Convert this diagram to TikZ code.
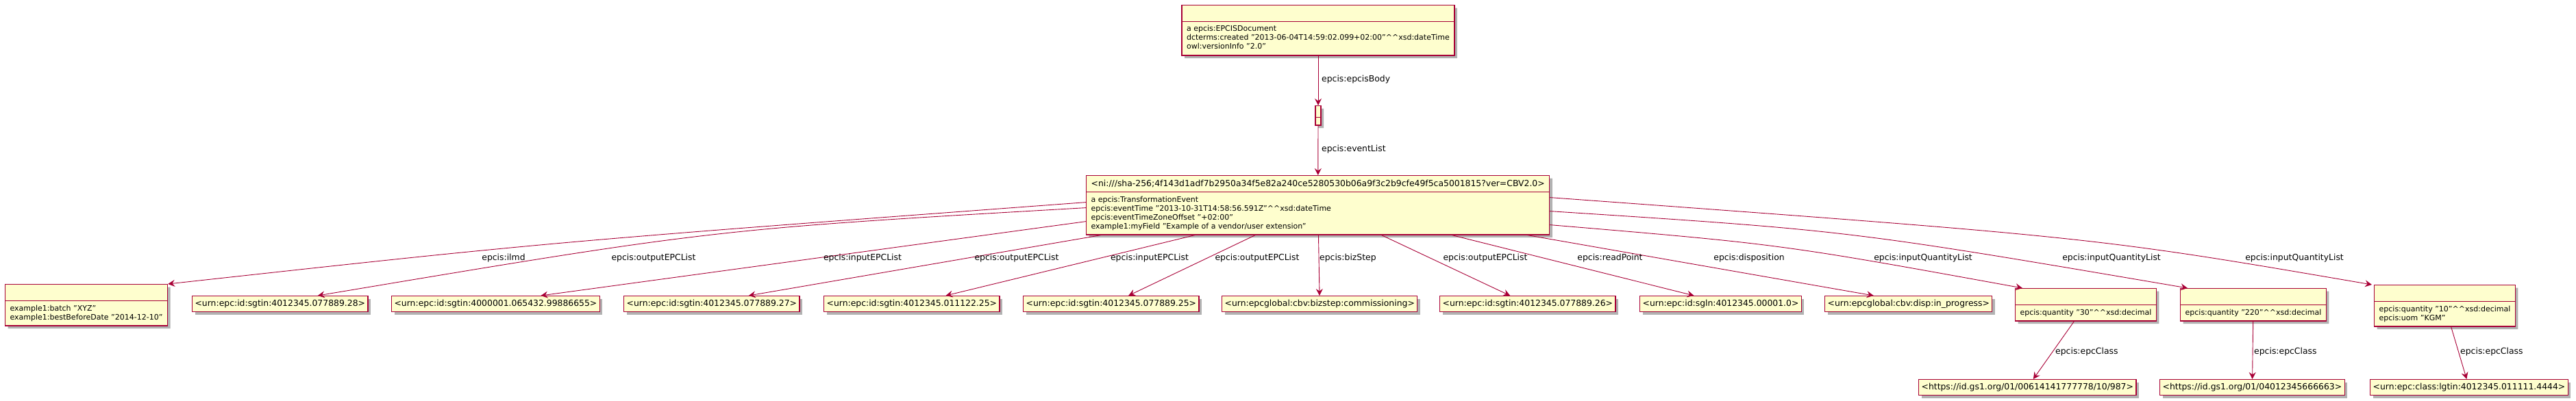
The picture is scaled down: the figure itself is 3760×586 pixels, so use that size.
\documentclass[tikz,border=0pt]{standalone}
\usepackage{fontspec}
\setmainfont{DejaVu Sans}
\usetikzlibrary{calc, arrows.meta, shapes.multipart, shadows}
\definecolor{umlred}{HTML}{A80036}
\definecolor{umlfill}{HTML}{FEFECE}
\newcommand{\namefont}{\fontsize{12.4}{14}\selectfont}
\newcommand{\attrfont}{\fontsize{11}{13}\selectfont}
\newcommand{\hstrut}{\rule[-3.5pt]{0pt}{14pt}}
\newcommand{\dtsep}{\textasciicircum\textasciicircum}
\newcommand{\attrs}[1]{\attrfont\begin{tabular}{@{}l@{}}#1\end{tabular}}

\begin{document}
\begin{tikzpicture}[x=1pt, y=-1pt]
    \tikzset{
      obj/.style={
        draw=umlred, fill=umlfill, line width=1.2pt,
        drop shadow={shadow xshift=4pt, shadow yshift=-4pt, opacity=.3, fill=black},
        inner xsep=4pt, inner ysep=4.5pt, font=\namefont, anchor=north west,
      },
      cobj/.style={
        obj, inner xsep=7pt,
        rectangle split, rectangle split parts=2,
        rectangle split part align={center, left},
      },
      lbl/.style={font=\namefont, inner sep=0pt},
      rel/.style={draw=umlred, line width=.9pt,
        -{Stealth[length=10pt, width=10pt, inset=3.5pt]}},
    }
    \useasboundingbox (0,0) rectangle (3760,586);

    % document -> body -> event
    \node[cobj, anchor=north] (doc) at (1924,7)
        {\hstrut \nodepart{two} \attrs{a epcis:EPCISDocument\\
          dcterms:created "2013-06-04T14:59:02.099+02:00"\dtsep xsd:dateTime\\
          owl:versionInfo "2.0"}};
    \node[cobj, anchor=north, inner xsep=4pt] (body) at (1924,154)
        {\rule{0pt}{7pt} \nodepart{two} \rule{0pt}{1pt}};
    \node[cobj] (ev) at (1585,256)
        {\hstrut<ni:///sha-256;4f143d1adf7b2950a34f5e82a240ce5280530b06a9f3c2b9cfe49f5ca5001815?ver=CBV2.0>
         \nodepart{two} \attrs{a epcis:TransformationEvent\\
          epcis:eventTime "2013-10-31T14:58:56.591Z"\dtsep xsd:dateTime\\
          epcis:eventTimeZoneOffset "+02:00"\\
          example1:myField "Example of a vendor/user extension"}};

    % event targets
    \node[cobj] (ex1) at (7,415)
        {\hstrut \nodepart{two} \attrs{example1:batch "XYZ"\\
          example1:bestBeforeDate "2014-12-10"}};
    \node[obj] (b28)   at (280,432)  {\hstrut<urn:epc:id:sgtin:4012345.077889.28>};
    \node[obj] (b654)  at (571,432)  {\hstrut<urn:epc:id:sgtin:4000001.065432.99886655>};
    \node[obj] (b27)   at (910,432)  {\hstrut<urn:epc:id:sgtin:4012345.077889.27>};
    \node[obj] (b111)  at (1202,432) {\hstrut<urn:epc:id:sgtin:4012345.011122.25>};
    \node[obj] (b25)   at (1493,432) {\hstrut<urn:epc:id:sgtin:4012345.077889.25>};
    \node[obj] (bstep) at (1783,432) {\hstrut<urn:epcglobal:cbv:bizstep:commissioning>};
    \node[obj] (b26)   at (2101,432) {\hstrut<urn:epc:id:sgtin:4012345.077889.26>};
    \node[obj] (sgln)  at (2393,432) {\hstrut<urn:epc:id:sgln:4012345.00001.0>};
    \node[obj] (disp)  at (2663,432) {\hstrut<urn:epcglobal:cbv:disp:in\_progress>};
    \node[cobj] (q30)  at (2941,421)
        {\hstrut \nodepart{two} \attrs{epcis:quantity "30"\dtsep xsd:decimal}};
    \node[cobj] (q220) at (3182,421)
        {\hstrut \nodepart{two} \attrs{epcis:quantity "220"\dtsep xsd:decimal}};
    \node[cobj] (q10)  at (3465,416)
        {\hstrut \nodepart{two} \attrs{epcis:quantity "10"\dtsep xsd:decimal\\
          epcis:uom "KGM"}};

    % classes
    \node[obj] (gs1a)  at (2800,554) {\hstrut<https://id.gs1.org/01/00614141777778/10/987>};
    \node[obj] (gs1b)  at (3152,554) {\hstrut<https://id.gs1.org/01/04012345666663>};
    \node[obj] (lgtin) at (3459,554) {\hstrut<urn:epc:class:lgtin:4012345.011111.4444>};

    % top edges
    \draw[rel] (doc) -- (body);
    \draw[rel] (body) -- (ev);
    \node[lbl, anchor=west] (body-lbl) at (1929,116) {epcis:epcisBody};
    \node[lbl, anchor=west] (list-lbl) at (1929,218) {epcis:eventList};

    % event edges
    \draw[rel] ($(ev.south west)+(0,-48)$) .. controls (800,354) .. (ex1.north east);
    \draw[rel] ($(ev.south west)+(0,-40)$) .. controls (1042,335) .. ([xshift=55pt]b28.north);
    \draw[rel] ($(ev.south west)+(0,-20)$) -- ([xshift=66pt]b654.north);
    \draw[rel] ([xshift=22pt]ev.south west) -- ([xshift=54pt]b27.north);
    \draw[rel] (ev) -- (b111);
    \draw[rel] (ev) -- (b25);
    \draw[rel] (ev) -- (bstep);
    \draw[rel] (ev) -- (b26);
    \draw[rel] ([xshift=-143pt]ev.south east) -- ([xshift=-39pt]sgln.north);
    \draw[rel] ([xshift=-33pt]ev.south east) -- ([xshift=-51pt]disp.north);
    \draw[rel] ($(ev.south east)+(0,-15)$) .. controls (2600,357) .. ([xshift=11pt]q30.north west);
    \draw[rel] ($(ev.south east)+(0,-35)$) .. controls (2700,337) .. ([xshift=11pt]q220.north west);
    \draw[rel] ($(ev.south east)+(0,-55)$) .. controls (3060,347) .. ([xshift=-3pt]q10.north west);

    \node[lbl] (ilmd-lbl)  at (735,377)  {epcis:ilmd};
    \node[lbl] (out1-lbl)  at (954,377)  {epcis:outputEPCList};
    \node[lbl] (in1-lbl)   at (1259,377) {epcis:inputEPCList};
    \node[lbl] (out2-lbl)  at (1484,377) {epcis:outputEPCList};
    \node[lbl] (in2-lbl)   at (1678,377) {epcis:inputEPCList};
    \node[lbl] (out3-lbl)  at (1835,377) {epcis:outputEPCList};
    \node[lbl, anchor=west] (step-lbl) at (1926,377) {epcis:bizStep};
    \node[lbl] (out4-lbl)  at (2168,377) {epcis:outputEPCList};
    \node[lbl] (read-lbl)  at (2350,377) {epcis:readPoint};
    \node[lbl] (disp-lbl)  at (2553,377) {epcis:disposition};
    \node[lbl] (qty1-lbl)  at (2807,377) {epcis:inputQuantityList};
    \node[lbl] (qty2-lbl)  at (3082,377) {epcis:inputQuantityList};
    \node[lbl] (qty3-lbl)  at (3349,377) {epcis:inputQuantityList};

    % class edges
    \draw[rel] (q30) -- (gs1a);
    \draw[rel] (q220) -- (gs1b);
    \draw[rel] (q10) -- (lgtin);
    \node[lbl, anchor=west] (cls1-lbl) at (3000,514) {epcis:epcClass};
    \node[lbl, anchor=west] (cls2-lbl) at (3290,514) {epcis:epcClass};
    \node[lbl, anchor=west] (cls3-lbl) at (3591,514) {epcis:epcClass};
\end{tikzpicture}
\end{document}
